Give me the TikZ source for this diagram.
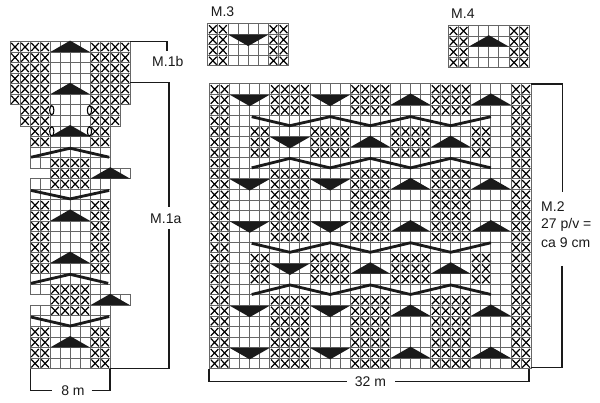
\documentclass[tikz,border=0pt]{standalone}
\usepackage{fontspec}
\setmainfont{Liberation Sans}
\definecolor{gridgray}{HTML}{666666}
\definecolor{inkdark}{HTML}{1A1A1A}
\tikzset{
  cellbox/.style={draw=gridgray,line width=1pt},
  crossmark/.style={draw=black,line width=1.2pt},
  solidtri/.style={fill=inkdark,draw=none},
  zigzag/.style={draw=inkdark,line width=2.8pt,line join=miter},
  bracket/.style={draw=inkdark,line width=1.6pt,line cap=butt},
  lab/.style={font=\fontsize{14}{16}\selectfont,text=inkdark,inner sep=0pt},
  oval/.style={draw=black,line width=1.1pt,fill=white}
}
\newcommand{\cellrow}[2]{\edef\mylist{#2}\foreach \c in \mylist {\draw[cellbox] (\c,#1) rectangle ++(1,1);}}
\newcommand{\xrow}[2]{\edef\mylist{#2}\foreach \c in \mylist {
  \draw[crossmark] (\c+.12,#1+.12) -- (\c+.88,#1+.88) (\c+.12,#1+.88) -- (\c+.88,#1+.12);}}
\newcommand{\tridown}[2]{\fill[solidtri] (#2+.02,#1+.02) -- (#2+3.98,#1+.02) -- (#2+2,#1+1.1) -- cycle;}
\newcommand{\triup}[2]{\fill[solidtri] (#2+.02,#1+.98) -- (#2+3.98,#1+.98) -- (#2+2,#1-.1) -- cycle;}
\def\blockA{0,1,6,7,8,9,14,15,16,17,22,23,24,25,30,31}
\def\blockB{0,1,4,5,10,11,12,13,18,19,20,21,26,27,30,31}
\begin{document}
\begin{tikzpicture}[x=1pt,y=-1pt]
\useasboundingbox (0,0) rectangle (600,403);
\fill[white] (0,0) rectangle (600,403);

% M.1 chart
\begin{scope}[shift={(10pt,-41.7pt)},x=10.02pt,y=-10.55pt]
  \foreach \r in {0,...,5}{\cellrow{\r}{0,...,11}\xrow{\r}{0,1,2,3,8,9,10,11}}
  \foreach \r in {6,7}{\cellrow{\r}{1,...,10}\xrow{\r}{1,2,3,8,9,10}}
  \foreach \r in {8,9}{\cellrow{\r}{2,...,9}\xrow{\r}{2,3,8,9}}
  \foreach \r in {10,14,22,26}{\cellrow{\r}{2,...,9}}
  \foreach \r in {11,13,23,25}{\cellrow{\r}{2,...,9}\xrow{\r}{4,5,6,7}}
  \foreach \r in {12,24}{\cellrow{\r}{4,...,11}\xrow{\r}{4,5,6,7}\triup{\r}{8}}
  \foreach \r in {15,...,21,27,28,29,30}{\cellrow{\r}{2,...,9}\xrow{\r}{2,3,8,9}}
  \foreach \r in {0,4,8,16,20,28}{\triup{\r}{4}}
  \draw[zigzag] (2.1,10.95) -- (6,10.1) -- (9.9,10.95);
  \draw[zigzag] (2.1,14.1) -- (6,14.9) -- (9.9,14.1);
  \draw[zigzag] (2.1,22.9) -- (6,22.05) -- (9.8,22.9);
  \draw[zigzag] (2.1,26.1) -- (6,26.95) -- (9.9,26.05);
  \foreach \r in {6,8}{
    \draw[oval] (4.17,\r+.5) ellipse [x radius=2.1pt,y radius=4.6pt];
    \draw[oval] (7.93,\r+.5) ellipse [x radius=2.1pt,y radius=4.6pt];
  }
\end{scope}

% M.2 chart
\begin{scope}[shift={(209.5pt,-84pt)},x=10.05pt,y=-10.55pt]
  \foreach \r in {0,...,26}{\cellrow{\r}{0,...,31}}
  \foreach \r in {0,1,2,8,9,...,14,20,21,...,26}{\xrow{\r}{\blockA}}
  \foreach \r in {4,5,6,16,17,18}{\xrow{\r}{\blockB}}
  \foreach \r in {3,7,15,19}{\xrow{\r}{0,1,30,31}}
  \foreach \r in {1,9,13,21,25}{\tridown{\r}{2}\tridown{\r}{10}\triup{\r}{18}\triup{\r}{26}}
  \foreach \r in {5,17}{\tridown{\r}{6}\triup{\r}{14}\triup{\r}{22}}
  \draw[zigzag] (4.2,3.1) -- (8,3.95) -- (12,3.1) -- (16,3.95) -- (20,3.1) -- (24,3.95) -- (28,3.1);
  \draw[zigzag] (4.2,7.95) -- (8,7.05) -- (12,7.95) -- (16,7.05) -- (20,7.95) -- (24,7.05) -- (28,7.95);
  \draw[zigzag] (4.2,15.1) -- (8,15.95) -- (12,15.05) -- (16,15.95) -- (20,15.05) -- (24,15.95) -- (28,15.05);
  \draw[zigzag] (4.2,19.95) -- (8,19.05) -- (12,19.95) -- (16,19.05) -- (20,19.95) -- (24,19.05) -- (28,19.95);
\end{scope}

% M.3 chart
\begin{scope}[shift={(207.8pt,-24pt)},x=10.1pt,y=-10.5pt]
  \foreach \r in {0,...,3}{\cellrow{\r}{0,...,7}\xrow{\r}{0,1,6,7}}
  \tridown{1}{2}
\end{scope}

% M.4 chart
\begin{scope}[shift={(448.4pt,-25.8pt)},x=10.1pt,y=-10.5pt]
  \foreach \r in {0,...,3}{\cellrow{\r}{0,...,7}\xrow{\r}{0,1,6,7}}
  \triup{1}{2}
\end{scope}

% Brackets
\draw[bracket] (130,41.7) -- (166.7,41.7) -- (166.7,51);
\draw[bracket] (130,82.5) -- (168.8,82.5) -- (168.8,207.5);
\draw[bracket] (168.8,229) -- (168.8,368.7) -- (110,368.7);
\draw[bracket] (30.5,369) -- (30.5,390.5) -- (52,390.5);
\draw[bracket] (91.5,390.5) -- (110,390.5) -- (110,369);
\draw[bracket] (531,84) -- (562.5,84) -- (562.5,191.7);
\draw[bracket] (562,266) -- (562,367.7) -- (531,367.7);
\draw[bracket] (209,369) -- (209,381.7) -- (346.7,381.7);
\draw[bracket] (395,381.7) -- (529,381.7) -- (529,369);

% Labels
\node[lab,anchor=west] (m1b) at (152,61.7) {M.1b};
\node[lab,anchor=west] (m1a) at (150,219) {M.1a};
\node[lab,anchor=west] (m3) at (210.7,12) {M.3};
\node[lab,anchor=west] (m4) at (451,14) {M.4};
\node[lab,anchor=west] (m2a) at (541,207) {M.2};
\node[lab,anchor=west] (m2b) at (541,225) {27 p/v =};
\node[lab,anchor=west] (m2c) at (541,243) {ca 9 cm};
\node[lab] (w8) at (73,391) {8 m};
\node[lab] (w32) at (370.5,382) {32 m};
\end{tikzpicture}
\end{document}
